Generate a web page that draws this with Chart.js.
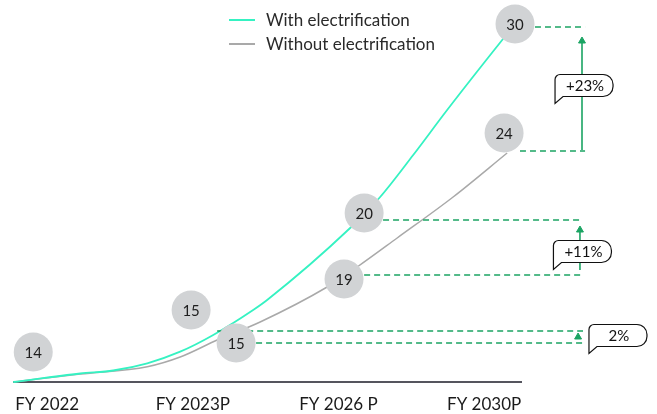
<!DOCTYPE html>
<html>
<head>
<meta charset="utf-8">
<script src="https://cdn.jsdelivr.net/npm/chart.js@4"></script>
<style>
  html, body { margin: 0; padding: 0; background: #fff; }
  #wrap { width: 657px; height: 414px; }
</style>
</head>
<body>
<div id="wrap"><canvas id="chart"></canvas></div>
<script>
// x is in category units (0 = FY 2022 ... 3 = FY 2030P), y in arbitrary index units
const xLabels = ['FY 2022', 'FY 2023P', 'FY 2026 P', 'FY 2030P'];

const withX = [-0.233, 0.227, 0.453, 0.687, 0.913, 1.14, 1.414, 1.51, 2.08, 2.286, 2.513, 2.746, 3.124, 3.213];
const withY = [0, 0.85, 1.15, 1.87, 3.03, 4.7, 7.2, 8.2, 15.4, 18.5, 22.7, 27.2, 34.2, 35.8];

const withoutX = [-0.233, 0.227, 0.687, 0.913, 1.167, 1.462, 1.922, 2.128, 2.403, 2.787, 3.158];
const withoutY = [0, 0.8, 1.53, 2.5, 4.2, 6.0, 9.5, 11.5, 14.4, 18.5, 22.9];

const bubbleText = ['14', '15', '15', '20', '19', '30', '24'];
const bubbleX = [-0.096, 0.988, 1.297, 2.176, 2.038, 3.212, 3.137];
const bubbleY = [3.0, 7.2, 3.9, 16.9, 10.3, 35.8, 24.9];

// dashed guides
const guideFrom = [3.349, 3.246, 2.306, 2.176, 1.167, 1.434];
const guideTo = [3.693, 3.693, 3.679, 3.679, 3.679, 3.679];
const guideY = [35.5, 23.1, 16.2, 10.7, 5.1, 3.9];

// arrows: x, from, to
const arrowX = [3.672, 3.658, 3.645];
const arrowFrom = [23.2, 11.2, 4.5];
const arrowTo = [34.1, 15.2, 4.5];

const calloutText = ['+23%', '+11%', '2%'];
const calloutX = [3.686, 3.675, 3.919];
const calloutY = [29.65, 13.05, 4.65];

const axisX = [-0.235, 3.26];

const FONT = 'Lato, "Open Sans", sans-serif';
const GREEN = '#1ba463';

const toPts = (xs, ys) => xs.map((x, i) => ({ x, y: ys[i] }));

const datasets = [
  {
    label: 'With electrification',
    data: toPts(withX, withY),
    borderColor: '#35f2c2',
    borderWidth: 1.8,
    pointRadius: 0,
    cubicInterpolationMode: 'monotone',
    clip: false,
    order: 2,
    legend: true
  },
  {
    label: 'Without electrification',
    data: toPts(withoutX, withoutY),
    borderColor: '#a9a9a9',
    borderWidth: 1.5,
    pointRadius: 0,
    cubicInterpolationMode: 'monotone',
    clip: false,
    order: 2,
    legend: true
  },
  {
    // baseline axis
    data: axisX.map(x => ({ x, y: 0 })),
    borderColor: '#1c1c28',
    borderWidth: 1.5,
    pointRadius: 0,
    clip: false,
    order: 3
  }
];

guideY.forEach((y, i) => {
  datasets.push({
    data: [{ x: guideFrom[i], y }, { x: guideTo[i], y }],
    borderColor: GREEN,
    borderWidth: 1.4,
    borderDash: [6, 4],
    pointRadius: 0,
    clip: false,
    order: 1
  });
});

arrowX.forEach((x, i) => {
  datasets.push({
    data: [{ x, y: arrowFrom[i] }, { x, y: arrowTo[i] }],
    borderColor: GREEN,
    backgroundColor: GREEN,
    borderWidth: 1.6,
    pointStyle: 'triangle',
    pointRadius: [0, 4],
    pointBackgroundColor: GREEN,
    pointBorderColor: GREEN,
    pointBorderWidth: 1,
    clip: false,
    order: 1
  });
});

datasets.push({
  id: 'bubbles',
  data: toPts(bubbleX, bubbleY),
  showLine: false,
  pointRadius: 19.5,
  pointBackgroundColor: '#d1d3d5',
  pointBorderWidth: 0,
  clip: false,
  order: 0
});

const bubbleLabels = {
  id: 'bubbleLabels',
  afterDatasetsDraw(chart) {
    const idx = chart.data.datasets.findIndex(d => d.id === 'bubbles');
    const meta = chart.getDatasetMeta(idx);
    const ctx = chart.ctx;
    ctx.save();
    ctx.font = '15px ' + FONT;
    ctx.fillStyle = '#1e1e1e';
    ctx.textAlign = 'center';
    ctx.textBaseline = 'middle';
    meta.data.forEach((pt, i) => ctx.fillText(bubbleText[i], pt.x, pt.y + 1));
    ctx.restore();
  }
};

const callouts = {
  id: 'callouts',
  afterDatasetsDraw(chart) {
    const { ctx, scales } = chart;
    const w = 58, h = 22, r = 10, tail = 7;
    ctx.save();
    calloutText.forEach((t, i) => {
      const cx = scales.x.getPixelForValue(calloutX[i]);
      const cy = scales.y.getPixelForValue(calloutY[i]);
      const l = cx - w / 2, tp = cy - h / 2, rt = cx + w / 2, b = cy + h / 2;
      ctx.beginPath();
      ctx.moveTo(l + 5, tp);
      ctx.lineTo(rt - r, tp);
      ctx.arcTo(rt, tp, rt, tp + r, r);
      ctx.lineTo(rt, b - r);
      ctx.arcTo(rt, b, rt - r, b, r);
      ctx.lineTo(l + 8, b);
      ctx.lineTo(l, b + tail);
      ctx.lineTo(l, tp + 5);
      ctx.arcTo(l, tp, l + 5, tp, 5);
      ctx.closePath();
      ctx.fillStyle = '#fff';
      ctx.fill();
      ctx.strokeStyle = '#111';
      ctx.lineWidth = 1.2;
      ctx.stroke();
      ctx.fillStyle = '#111';
      ctx.font = '15px ' + FONT;
      ctx.textAlign = 'center';
      ctx.textBaseline = 'middle';
      ctx.fillText(t, cx + 1, cy + 1);
    });
    ctx.restore();
  }
};

const lineLegend = {
  id: 'lineLegend',
  afterDraw(chart) {
    const ctx = chart.ctx;
    const items = chart.data.datasets.filter(d => d.legend);
    ctx.save();
    ctx.font = '17px ' + FONT;
    ctx.textBaseline = 'middle';
    items.forEach((d, i) => {
      const y = 20 + i * 24;
      ctx.strokeStyle = d.borderColor;
      ctx.lineWidth = 2;
      ctx.beginPath();
      ctx.moveTo(229, y);
      ctx.lineTo(255, y);
      ctx.stroke();
      ctx.fillStyle = '#2a2a2a';
      ctx.fillText(d.label, 266, y + 1);
    });
    ctx.restore();
  }
};

new Chart(document.getElementById('chart'), {
  type: 'line',
  data: { datasets },
  options: {
    responsive: true,
    maintainAspectRatio: false,
    animation: false,
    events: [],
    layout: { autoPadding: false, padding: { left: 13, right: 60, top: 0, bottom: 0 } },
    scales: {
      x: {
        type: 'linear',
        min: -0.235,
        max: 3.775,
        grid: { display: false, drawTicks: false },
        border: { display: false },
        afterBuildTicks: scale => {
          scale.ticks = xLabels.map((_, i) => ({ value: i }));
        },
        afterFit: scale => {
          scale.height = 32;
          scale.paddingLeft = 0;
          scale.paddingRight = 0;
        },
        ticks: {
          callback: v => xLabels[v],
          font: { family: FONT, size: 17 },
          color: '#1a1a1a',
          padding: 12,
          maxRotation: 0,
          autoSkip: false
        }
      },
      y: {
        display: false,
        min: 0,
        max: 38.2
      }
    },
    plugins: {
      legend: { display: false },
      tooltip: { enabled: false }
    }
  },
  plugins: [bubbleLabels, callouts, lineLegend]
});
</script>
</body>
</html>
